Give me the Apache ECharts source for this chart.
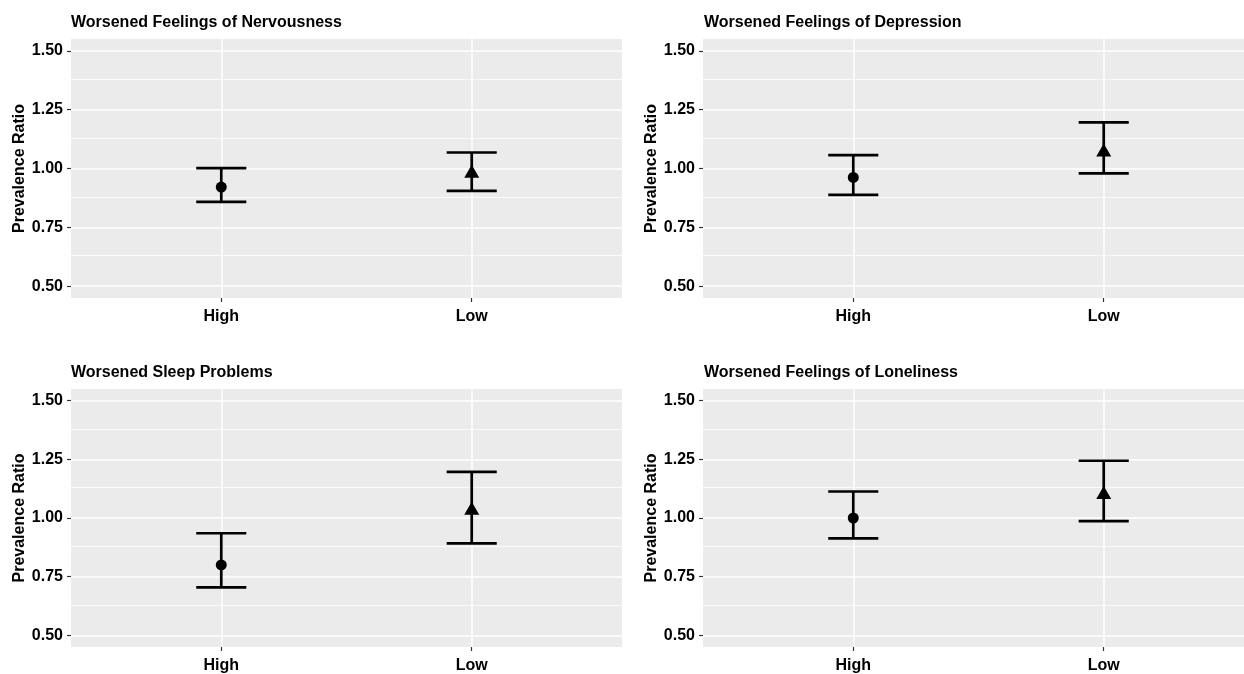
<!DOCTYPE html>
<html>
<head>
<meta charset="utf-8">
<script src="https://cdn.jsdelivr.net/npm/echarts@6/dist/echarts.min.js"></script>
<style>
  html, body { margin: 0; padding: 0; background: #ffffff; }
  #chart { width: 1244px; height: 674px; }
</style>
</head>
<body>
<div id="chart"></div>
<script>
// ---- data ----
const categories = ['High', 'Low'];
const panelTitles = [
  'Worsened Feelings of Nervousness',
  'Worsened Feelings of Depression',
  'Worsened Sleep Problems',
  'Worsened Feelings of Loneliness'
];
const estimates = [[0.921, 0.980], [0.962, 1.070], [0.800, 1.033], [1.000, 1.100]];
const lowerCI   = [[0.858, 0.905], [0.888, 0.979], [0.704, 0.892], [0.913, 0.987]];
const upperCI   = [[1.002, 1.068], [1.057, 1.196], [0.935, 1.197], [1.113, 1.244]];
const yTicks = [0.5, 0.75, 1.0, 1.25, 1.5];
const yMinorTicks = [0.625, 0.875, 1.125, 1.375];
const yAxisTitle = 'Prevalence Ratio';
const pointSymbols = ['circle', 'triangle'];

// ---- layout ----
const grids = [
  { left: 71, top: 39, width: 551, height: 259 },
  { left: 703, top: 39, width: 551, height: 259 },
  { left: 71, top: 389, width: 551, height: 258 },
  { left: 703, top: 389, width: 551, height: 258 }
];
const titlePos = [
  { left: 71, top: 15 }, { left: 704, top: 15 },
  { left: 71, top: 365 }, { left: 704, top: 365 }
];
const FONT = '"Liberation Sans", Arial, Helvetica, sans-serif';
const xPos = categories.map((c, i) => i + 1);
const capHalf = 0.1;

const option = {
  animation: false,
  backgroundColor: '#ffffff',
  title: panelTitles.map((t, i) => ({
    text: t, left: titlePos[i].left, top: titlePos[i].top, padding: 0,
    textStyle: { fontFamily: FONT, fontWeight: 'bold', fontSize: 16, color: '#000' }
  })),
  grid: grids.map(g => Object.assign({
    show: true, backgroundColor: '#EBEBEB', borderWidth: 0,
    outerBoundsMode: 'none', containLabel: false
  }, g)),
  xAxis: grids.map((g, i) => ({
    type: 'value', gridIndex: i, min: 0.4, max: 2.6,
    axisLine: { show: false },
    splitLine: { show: false },
    axisTick: { show: true, customValues: xPos, length: 4, lineStyle: { color: '#333', width: 1.2 } },
    axisLabel: {
      customValues: xPos, margin: 11,
      formatter: v => categories[Math.round(v) - 1] || '',
      fontFamily: FONT, fontWeight: 'bold', fontSize: 16, color: '#000'
    }
  })),
  yAxis: grids.map((g, i) => ({
    type: 'value', gridIndex: i, min: 0.45, max: 1.55,
    name: yAxisTitle, nameLocation: 'middle', nameGap: 42,
    nameTextStyle: { fontFamily: FONT, fontWeight: 'bold', fontSize: 16, color: '#000' },
    axisLine: { show: false },
    splitLine: { show: false },
    axisTick: { show: true, customValues: yTicks, length: 4, lineStyle: { color: '#333', width: 1.2 } },
    axisLabel: {
      customValues: yTicks, margin: 8,
      formatter: v => Number(v).toFixed(2),
      fontFamily: FONT, fontWeight: 'bold', fontSize: 16, color: '#000'
    }
  })),
  series: []
};

grids.forEach((g, i) => {
  // grid lines (ggplot-style white major/minor lines)
  option.series.push({
    type: 'line', xAxisIndex: i, yAxisIndex: i, data: [], silent: true, z: 1,
    markLine: {
      z: 1,
      silent: true, symbol: 'none', label: { show: false }, animation: false,
      data: [
        ...yMinorTicks.map(v => ({ yAxis: v, lineStyle: { color: '#ffffff', width: 0.8, type: 'solid' } })),
        ...yTicks.map(v => ({ yAxis: v, lineStyle: { color: '#ffffff', width: 1.5, type: 'solid' } })),
        ...xPos.map(v => ({ xAxis: v, lineStyle: { color: '#ffffff', width: 1.5, type: 'solid' } }))
      ]
    }
  });
  // error bars
  option.series.push({
    type: 'custom', xAxisIndex: i, yAxisIndex: i, z: 10, silent: true,
    data: xPos.map((x, j) => [x, lowerCI[i][j], upperCI[i][j]]),
    encode: { x: 0, y: [1, 2] },
    renderItem: (params, api) => {
      const x = api.value(0), lo = api.value(1), hi = api.value(2);
      const pLo = api.coord([x, lo]), pHi = api.coord([x, hi]);
      const l = api.coord([x - capHalf, lo])[0], r = api.coord([x + capHalf, lo])[0];
      const style = { stroke: '#000', lineWidth: 2.7, fill: null };
      return {
        type: 'group',
        children: [
          { type: 'line', shape: { x1: pLo[0], y1: pLo[1], x2: pHi[0], y2: pHi[1] }, style },
          { type: 'line', shape: { x1: l, y1: pHi[1], x2: r, y2: pHi[1] }, style },
          { type: 'line', shape: { x1: l, y1: pLo[1], x2: r, y2: pLo[1] }, style }
        ]
      };
    }
  });
  // point estimates
  xPos.forEach((x, j) => {
    const isTri = pointSymbols[j] === 'triangle';
    option.series.push({
      type: 'scatter', xAxisIndex: i, yAxisIndex: i, z: 12, silent: true,
      symbol: pointSymbols[j],
      symbolSize: isTri ? [15, 13] : 11,
      symbolOffset: isTri ? [0, -2] : [0, 0],
      itemStyle: { color: '#000', opacity: 1 },
      data: [[x, estimates[i][j]]]
    });
  });
});

const chart = echarts.init(document.getElementById('chart'), null, { renderer: 'canvas' });
chart.setOption(option);
</script>
</body>
</html>
